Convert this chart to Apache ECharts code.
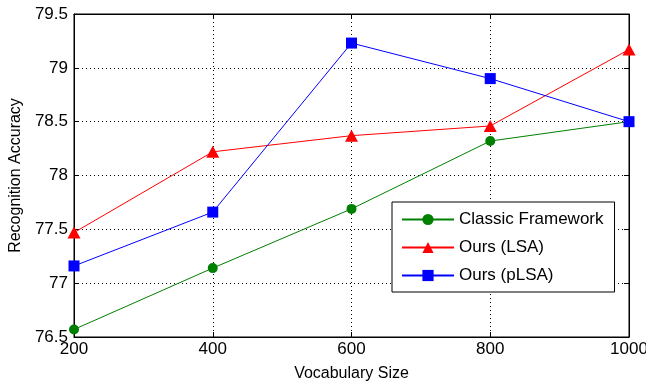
<!DOCTYPE html>
<html>
<head>
<meta charset="utf-8">
<script src="https://cdn.jsdelivr.net/npm/echarts@6/dist/echarts.min.js"></script>
<style>
html, body { margin: 0; padding: 0; background: #fff; }
#main { width: 646px; height: 387px; }
</style>
</head>
<body>
<div id="main"></div>
<script>
var vocabSizes = [200, 400, 600, 800, 1000];
var classicVals = [76.57, 77.14, 77.69, 78.32, 78.50];
var lsaVals = [77.47, 78.22, 78.37, 78.46, 79.17];
var plsaVals = [77.16, 77.66, 79.23, 78.90, 78.50];
var seriesNames = ['Classic Framework', 'Ours (LSA)', 'Ours (pLSA)'];

function pairs(vals) {
	var out = [];
	for (var i = 0; i < vocabSizes.length; i++) {
		out.push([vocabSizes[i], vals[i]]);
	}
	return out;
}

var font = 'Liberation Sans';
var dots = { color: '#000', width: 1, type: [1, 3] };

var myChart = echarts.init(document.getElementById('main'));
var option = {
	animation: false,
	backgroundColor: '#fff',
	textStyle: { fontFamily: font },
	grid: {
		left: 74, right: 17, top: 14, bottom: 50,
		outerBoundsMode: 'none',
		show: true, borderColor: '#000', borderWidth: 1
	},
	legend: {
		orient: 'vertical',
		left: 392, top: 202,
		padding: [9, 11, 8, 9],
		itemWidth: 52, itemHeight: 14, itemGap: 11,
		backgroundColor: '#fff',
		borderColor: '#000', borderWidth: 1,
		textStyle: { fontFamily: font, fontSize: 17, color: '#000', lineHeight: 14 },
		data: seriesNames
	},
	xAxis: [{
		type: 'value',
		min: 200, max: 1000, interval: 200,
		name: 'Vocabulary Size',
		nameLocation: 'middle', nameGap: 29,
		nameTextStyle: { fontFamily: font, fontSize: 16, color: '#000' },
		axisLine: { show: true, lineStyle: { color: '#000' } },
		axisTick: { show: true, inside: true, length: 5, lineStyle: { color: '#000' } },
		axisLabel: {
			color: '#000', fontSize: 17, margin: 4,
			formatter: function (v) { return String(v); }
		},
		splitLine: { show: true, lineStyle: dots }
	}, {
		type: 'value', position: 'top',
		min: 200, max: 1000, interval: 200,
		axisLine: { show: true, lineStyle: { color: '#000' } },
		axisTick: { show: true, inside: true, length: 5, lineStyle: { color: '#000' } },
		axisLabel: { show: false },
		splitLine: { show: false }
	}],
	yAxis: [{
		type: 'value',
		min: 76.5, max: 79.5, interval: 0.5,
		name: 'Recognition Accuracy',
		nameLocation: 'middle', nameGap: 47,
		nameTextStyle: { fontFamily: font, fontSize: 16, color: '#000' },
		axisLine: { show: true, lineStyle: { color: '#000' } },
		axisTick: { show: true, inside: true, length: 5, lineStyle: { color: '#000' } },
		axisLabel: { color: '#000', fontSize: 17, margin: 6 },
		splitLine: { show: true, lineStyle: dots }
	}, {
		type: 'value', position: 'right',
		min: 76.5, max: 79.5, interval: 0.5,
		axisLine: { show: true, lineStyle: { color: '#000' } },
		axisTick: { show: true, inside: true, length: 5, lineStyle: { color: '#000' } },
		axisLabel: { show: false },
		splitLine: { show: false }
	}],
	series: [{
		name: seriesNames[0],
		type: 'line',
		data: pairs(classicVals),
		symbol: 'circle', symbolSize: 10,
		lineStyle: { color: '#008000', width: 1 },
		itemStyle: { color: '#008000' }
	}, {
		name: seriesNames[1],
		type: 'line',
		data: pairs(lsaVals),
		symbol: 'triangle', symbolSize: [13, 12],
		lineStyle: { color: '#ff0000', width: 1 },
		itemStyle: { color: '#ff0000' }
	}, {
		name: seriesNames[2],
		type: 'line',
		data: pairs(plsaVals),
		symbol: 'rect', symbolSize: 11,
		lineStyle: { color: '#0000ff', width: 1 },
		itemStyle: { color: '#0000ff' }
	}]
};
myChart.setOption(option);
</script>
</body>
</html>
